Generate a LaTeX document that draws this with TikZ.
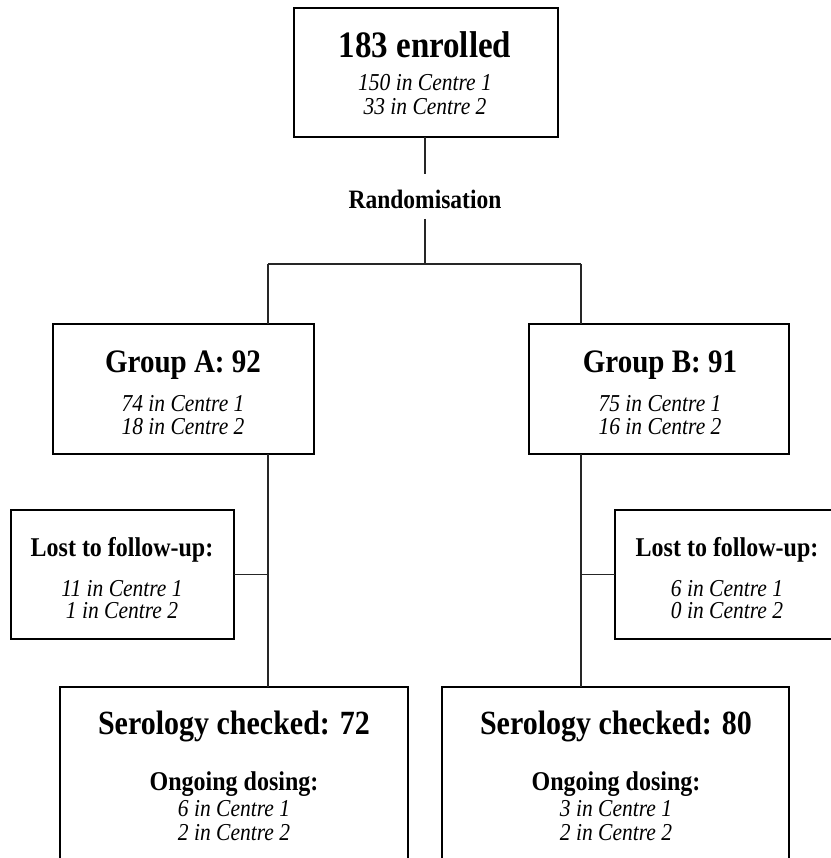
\documentclass[tikz,border=0pt]{standalone}
\usepackage{graphicx}
\usepackage{fontspec}
\setmainfont{Liberation Serif}
\newcommand{\vsc}[1]{\scalebox{1}[1.13]{#1}}
\begin{document}
\begin{tikzpicture}[x=1pt,y=-1pt,
  boxst/.style={draw=black,line width=2pt,rectangle,inner sep=0pt,outer sep=0pt,fill=none},
  conn/.style={draw=black!85,line width=1.3pt},
  bigtitle/.style={anchor=base,inner sep=0pt,font=\bfseries\fontsize{33}{36}\selectfont},
  grptitle/.style={anchor=base,inner sep=0pt,font=\bfseries\fontsize{29}{32}\selectfont},
  sertitle/.style={anchor=base,inner sep=0pt,font=\bfseries\fontsize{30}{33}\selectfont},
  subtitle/.style={anchor=base,inner sep=0pt,font=\bfseries\fontsize{24}{27}\selectfont},
  randst/.style={anchor=base,inner sep=0pt,font=\bfseries\fontsize{23.5}{26}\selectfont},
  itl/.style={anchor=base,inner sep=0pt,font=\itshape\fontsize{21.5}{24}\selectfont}
]
\useasboundingbox (0,0) rectangle (830,858);
\fill[white] (0,0) rectangle (830,858);

% boxes
\node[boxst,minimum width=264pt,minimum height=129pt] (top) at (426,72.5) {};
\node[boxst,minimum width=261pt,minimum height=130pt] (gA) at (183.5,389) {};
\node[boxst,minimum width=260pt,minimum height=130pt] (gB) at (659,389) {};
\node[boxst,minimum width=223pt,minimum height=129pt] (lL) at (122.5,574.5) {};
\node[boxst,minimum width=223pt,minimum height=129pt] (lR) at (726.5,574.5) {};
\node[boxst,minimum width=348pt,minimum height=200pt] (sL) at (234,787) {};
\node[boxst,minimum width=347pt,minimum height=200pt] (sR) at (615.5,787) {};

% texts
\node[bigtitle] (t1) at (425,57.5) {\vsc{183 enrolled}};
\node[itl] (t2) at (425,91) {\vsc{150 in Centre 1}};
\node[itl] (t3) at (425,115) {\vsc{33 in Centre 2}};

\node[randst] (rand) at (425,209) {\vsc{Randomisation}};

\node[grptitle] (a1) at (183,372.5) {\vsc{Group A: 92}};
\node[itl] (a2) at (183,411) {\vsc{74 in Centre 1}};
\node[itl] (a3) at (183,434) {\vsc{18 in Centre 2}};

\node[grptitle] (b1) at (660,372.5) {\vsc{Group B: 91}};
\node[itl] (b2) at (660,411) {\vsc{75 in Centre 1}};
\node[itl] (b3) at (660,434) {\vsc{16 in Centre 2}};

\node[subtitle] (la1) at (122,556) {\vsc{Lost to follow-up:}};
\node[itl] (la2) at (122,596) {\vsc{11 in Centre 1}};
\node[itl] (la3) at (122,618) {\vsc{1 in Centre 2}};

\node[subtitle] (lb1) at (727,556) {\vsc{Lost to follow-up:}};
\node[itl] (lb2) at (727,596) {\vsc{6 in Centre 1}};
\node[itl] (lb3) at (727,618) {\vsc{0 in Centre 2}};

\node[sertitle] (sa1) at (234,734.5) {\vsc{Serology checked: 72}};
\node[subtitle] (sa2) at (234,790) {\vsc{Ongoing dosing:}};
\node[itl] (sa3) at (234,816) {\vsc{6 in Centre 1}};
\node[itl] (sa4) at (234,840) {\vsc{2 in Centre 2}};

\node[sertitle] (sb1) at (616,734.5) {\vsc{Serology checked: 80}};
\node[subtitle] (sb2) at (616,790) {\vsc{Ongoing dosing:}};
\node[itl] (sb3) at (616,816) {\vsc{3 in Centre 1}};
\node[itl] (sb4) at (616,840) {\vsc{2 in Centre 2}};

% connector points
\coordinate (r1) at (425,174);
\coordinate (r2) at (425,219);
\coordinate (jM) at (425,264);
\coordinate (jL) at (268,264);
\coordinate (jR) at (581,264);

% connectors
\draw[conn] (top.south -| r1) -- (r1);
\draw[conn] (r2) -- (jM);
\draw[conn] (jL) -- (jR);
\draw[conn] (jL) -- (jL |- gA.north);
\draw[conn] (jR) -- (jR |- gB.north);
\draw[conn] (jL |- gA.south) -- (jL |- sL.north);
\draw[conn] (jR |- gB.south) -- (jR |- sR.north);
\draw[conn] (lL.east) -- (lL.east -| jL);
\draw[conn] (lR.west) -- (lR.west -| jR);
\end{tikzpicture}
\end{document}
